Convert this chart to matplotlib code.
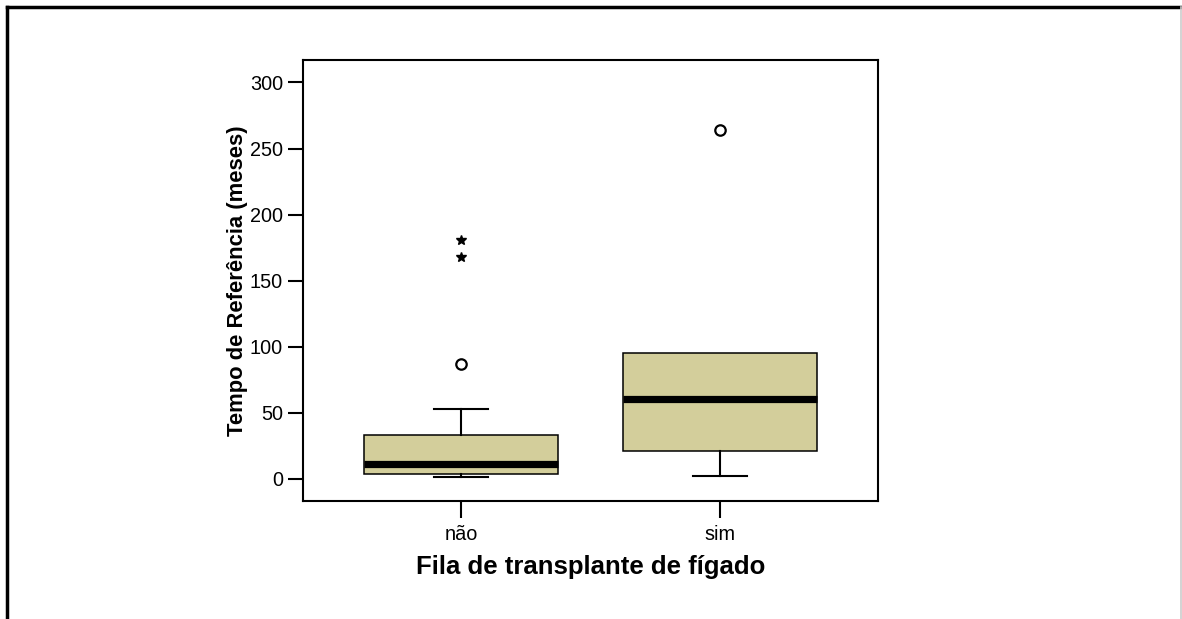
import matplotlib
matplotlib.use("Agg")
import matplotlib.pyplot as plt
from matplotlib.lines import Line2D

plt.rcParams['font.family'] = ['Liberation Sans', 'DejaVu Sans']

# Summary statistics per group
groups = ['não', 'sim']
whisker_low = [1.5, 2.3]
q1 = [3.8, 21.5]
median = [11.5, 60.5]
q3 = [33.5, 95.5]
whisker_high = [53.0, 95.5]
# Outliers (circles) and extremes (asterisks)
outliers = [[87.0], [264.0]]
extremes = [[168.0, 181.0], []]

yticks = [0, 50, 100, 150, 200, 250, 300]
box_color = '#D3CE9B'

fig = plt.figure(figsize=(11.82, 6.19), dpi=100)
ax = fig.add_axes([303 / 1182, 1 - 501 / 619, (878 - 303) / 1182, (501 - 60) / 619])

stats = []
for i, g in enumerate(groups):
    stats.append(dict(label=g, med=median[i], q1=q1[i], q3=q3[i],
                      whislo=whisker_low[i], whishi=whisker_high[i]))

positions = [1, 2]
parts = ax.bxp(stats, positions=positions, widths=0.75, patch_artist=True,
               showfliers=False,
               boxprops=dict(facecolor=box_color, edgecolor='black', linewidth=1.1),
               medianprops=dict(color='black', linewidth=5.2, solid_capstyle='butt'),
               whiskerprops=dict(color='black', linewidth=1.5),
               capprops=dict(color='black', linewidth=1.5),
               capwidths=0.21)

# A whisker that ends on the box edge gets no cap
for i in range(len(groups)):
    if whisker_high[i] <= q3[i]:
        parts['caps'][2 * i + 1].set_visible(False)
    if whisker_low[i] >= q1[i]:
        parts['caps'][2 * i].set_visible(False)

for p, vals in zip(positions, outliers):
    if vals:
        ax.plot([p] * len(vals), vals, linestyle='none', marker='o', markersize=7.5,
                markerfacecolor='white', markeredgecolor='black', markeredgewidth=1.6)
for p, vals in zip(positions, extremes):
    if vals:
        ax.plot([p] * len(vals), vals, linestyle='none', marker='*', markersize=7.5,
                color='black')

ax.set_xlim(0.39, 2.61)
ax.set_ylim(-16.7, 317)
ax.set_yticks(yticks)
ax.set_xticks(positions)
ax.set_xticklabels(groups)
ax.tick_params(axis='both', direction='out', length=10.5, width=1.5, labelsize=14.3)
ax.tick_params(axis='y', pad=4)
ax.tick_params(axis='x', length=12, pad=5)
for s in ax.spines.values():
    s.set_linewidth(1.5)

ax.set_ylabel('Tempo de Referência (meses)', fontsize=15.8, fontweight='bold', labelpad=1)
ax.set_xlabel('Fila de transplante de fígado', fontsize=18.5, fontweight='bold', labelpad=8)

# Outer frame of the figure
fig.add_artist(Line2D([7 / 1182, 7 / 1182], [0, 1 - 7 / 619], transform=fig.transFigure,
                      color='black', linewidth=2.5))
fig.add_artist(Line2D([7 / 1182, 1], [1 - 7 / 619, 1 - 7 / 619], transform=fig.transFigure,
                      color='black', linewidth=2.5))
fig.add_artist(Line2D([1180.5 / 1182, 1180.5 / 1182], [0, 1 - 7 / 619], transform=fig.transFigure,
                      color='#cccccc', linewidth=1.2))

fig.savefig('out.png', dpi=100)
